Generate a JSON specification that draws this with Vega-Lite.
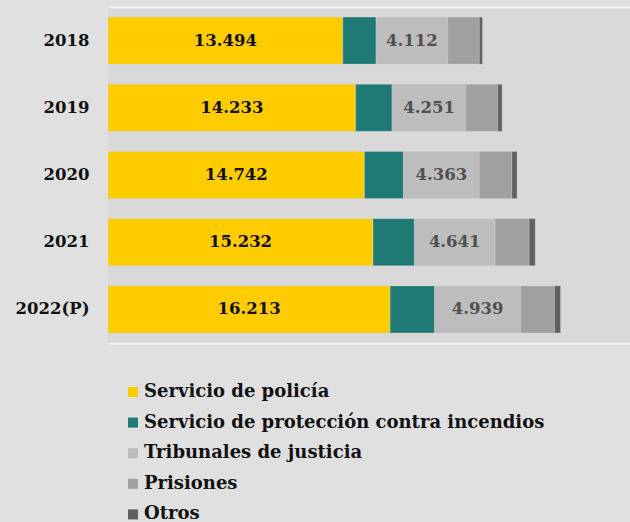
{
  "$schema": "https://vega.github.io/schema/vega-lite/v6.json",
  "autosize": "none",
  "width": 522,
  "height": 336,
  "padding": {"left": 108, "top": 7, "right": 0, "bottom": 179},
  "background": "#e0e0e0",
  "config": {
    "view": {"fill": "#d9d9d9", "stroke": null},
    "font": "DejaVu Serif"
  },
  "data": {
    "values": [
      {"year": "2018", "cat": "Servicio de policía", "value": 13494, "label": "13.494"},
      {"year": "2018", "cat": "Servicio de protección contra incendios", "value": 1915, "label": ""},
      {"year": "2018", "cat": "Tribunales de justicia", "value": 4112, "label": "4.112"},
      {"year": "2018", "cat": "Prisiones", "value": 1818, "label": ""},
      {"year": "2018", "cat": "Otros", "value": 183, "label": ""},
      {"year": "2019", "cat": "Servicio de policía", "value": 14233, "label": "14.233"},
      {"year": "2019", "cat": "Servicio de protección contra incendios", "value": 2093, "label": ""},
      {"year": "2019", "cat": "Tribunales de justicia", "value": 4251, "label": "4.251"},
      {"year": "2019", "cat": "Prisiones", "value": 1818, "label": ""},
      {"year": "2019", "cat": "Otros", "value": 252, "label": ""},
      {"year": "2020", "cat": "Servicio de policía", "value": 14742, "label": "14.742"},
      {"year": "2020", "cat": "Servicio de protección contra incendios", "value": 2236, "label": ""},
      {"year": "2020", "cat": "Tribunales de justicia", "value": 4363, "label": "4.363"},
      {"year": "2020", "cat": "Prisiones", "value": 1869, "label": ""},
      {"year": "2020", "cat": "Otros", "value": 298, "label": ""},
      {"year": "2021", "cat": "Servicio de policía", "value": 15232, "label": "15.232"},
      {"year": "2021", "cat": "Servicio de protección contra incendios", "value": 2374, "label": ""},
      {"year": "2021", "cat": "Tribunales de justicia", "value": 4641, "label": "4.641"},
      {"year": "2021", "cat": "Prisiones", "value": 1955, "label": ""},
      {"year": "2021", "cat": "Otros", "value": 350, "label": ""},
      {"year": "2022(P)", "cat": "Servicio de policía", "value": 16213, "label": "16.213"},
      {"year": "2022(P)", "cat": "Servicio de protección contra incendios", "value": 2557, "label": ""},
      {"year": "2022(P)", "cat": "Tribunales de justicia", "value": 4939, "label": "4.939"},
      {"year": "2022(P)", "cat": "Prisiones", "value": 1955, "label": ""},
      {"year": "2022(P)", "cat": "Otros", "value": 344, "label": ""}
    ]
  },
  "transform": [
    {"calculate": "indexof(['Servicio de policía','Servicio de protección contra incendios','Tribunales de justicia','Prisiones','Otros'], datum.cat)", "as": "o"},
    {"stack": "value", "groupby": ["year"], "sort": [{"field": "o", "order": "ascending"}], "as": ["x0", "x1"]},
    {"calculate": "(datum.x0 + datum.x1) / 2", "as": "mid"}
  ],
  "encoding": {
    "y": {
      "field": "year",
      "type": "ordinal",
      "sort": ["2018", "2019", "2020", "2021", "2022(P)"],
      "scale": {"paddingInner": 0.3, "paddingOuter": 0.15},
      "axis": {
        "title": null,
        "domain": false,
        "ticks": false,
        "labelFont": "DejaVu Serif",
        "labelFontWeight": "bold",
        "labelFontSize": 16.5,
        "labelColor": "#111111",
        "labelPadding": 19
      }
    }
  },
  "layer": [
    {
      "mark": {"type": "bar", "stroke": "#cfcfcf", "strokeWidth": 0.6, "strokeOpacity": 0.6},
      "encoding": {
        "x": {
          "field": "x0",
          "type": "quantitative",
          "scale": {"domain": [0, 30000], "nice": false, "zero": true},
          "axis": {"title": null, "orient": "bottom", "labels": false, "ticks": false, "grid": false, "domainColor": "#f4f4f4", "domainWidth": 2}
        },
        "x2": {"field": "x1"},
        "color": {
          "field": "cat",
          "type": "nominal",
          "sort": ["Servicio de policía", "Servicio de protección contra incendios", "Tribunales de justicia", "Prisiones", "Otros"],
          "scale": {
            "domain": ["Servicio de policía", "Servicio de protección contra incendios", "Tribunales de justicia", "Prisiones", "Otros"],
            "range": ["#ffcc00", "#1f7a76", "#bdbdbd", "#a0a0a0", "#606060"]
          },
          "legend": {
            "title": null,
            "orient": "none",
            "legendX": 16,
            "legendY": 376,
            "direction": "vertical",
            "symbolType": "square",
            "symbolSize": 100,
            "symbolStrokeWidth": 0,
            "labelFont": "DejaVu Serif",
            "labelFontWeight": "bold",
            "labelFontSize": 18,
            "labelColor": "#111111",
            "labelLimit": 700,
            "labelOffset": 2,
            "rowPadding": 12.6,
            "padding": 0
          }
        }
      }
    },
    {
      "mark": {"type": "text", "font": "DejaVu Serif", "fontWeight": "bold", "fontSize": 16.5, "baseline": "middle", "align": "center"},
      "encoding": {
        "x": {
          "field": "mid",
          "type": "quantitative",
          "axis": {"title": null, "orient": "top", "labels": false, "ticks": false, "grid": false, "domainColor": "#f4f4f4", "domainWidth": 2}
        },
        "text": {"field": "label"},
        "color": {
          "condition": {"test": "datum.o == 0", "value": "#111111"},
          "value": "#505050"
        }
      }
    }
  ],
  "resolve": {"axis": {"x": "independent"}}
}
